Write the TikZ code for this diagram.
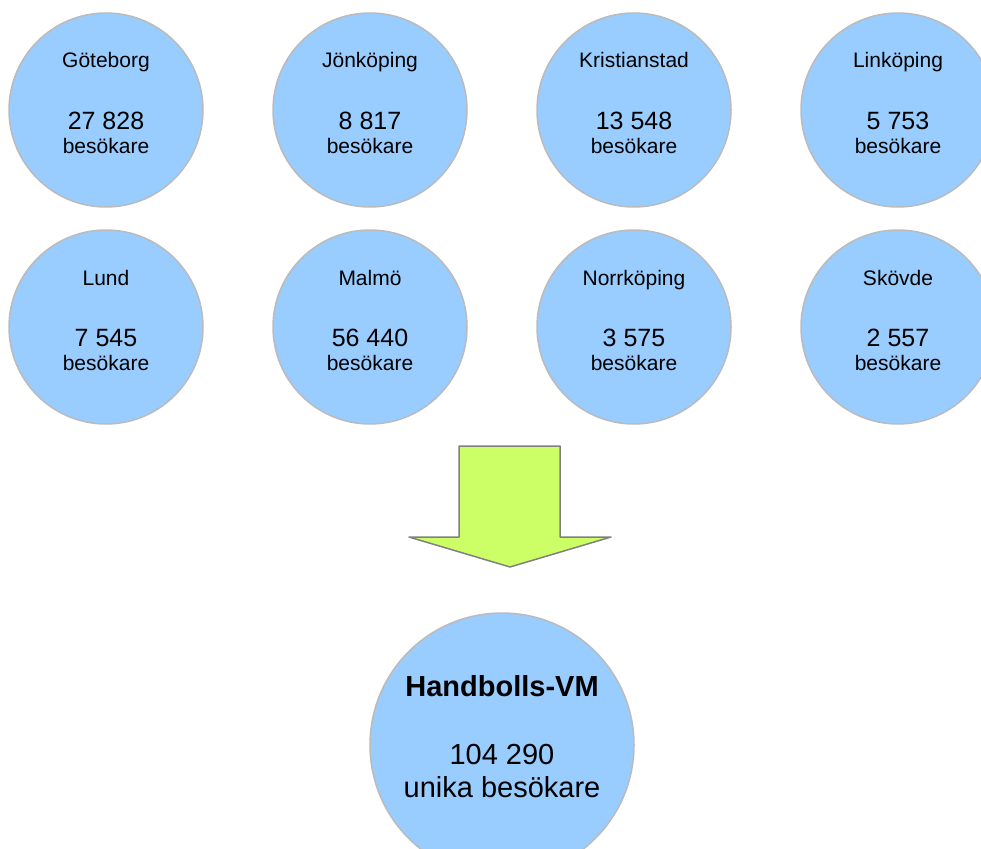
\documentclass[tikz,border=0pt]{standalone}
\usepackage{fontspec}
\setmainfont{Liberation Sans}
\usepackage{tikz}
\usetikzlibrary{calc}
\usepackage{tkz-euclide}
\usepackage{xcolor}
\definecolor{skyfill}{HTML}{99CCFF}
\definecolor{rimgray}{HTML}{BBBBBB}
\definecolor{limefill}{HTML}{CCFF66}
\definecolor{arrowgray}{HTML}{808080}

\begin{document}
\begin{tikzpicture}[x=1pt, y=-1pt,
    bubble/.style={circle, draw=rimgray, line width=1.5pt, fill=skyfill, minimum size=194pt, inner sep=0pt},
    town/.style={anchor=base, font=\fontsize{21}{21}\selectfont},
    count/.style={anchor=base, font=\fontsize{25}{25}\selectfont}]
            \clip (0,0) rectangle (981,848);
            \foreach \x/\y/\n/\t/\v in {106/110/got/Göteborg/27 828, 370/110/jon/Jönköping/8 817,
                634/110/kri/Kristianstad/13 548, 898/110/lin/Linköping/5 753,
                106/327/lun/Lund/7 545, 370/327/mal/Malmö/56 440,
                634/327/nor/Norrköping/3 575, 898/327/sko/Skövde/2 557}{
                \node[bubble] (\n) at (\x,\y) {};
                \node[town] (\n-name) at ($(\n)+(0,-42)$) {\t};
                \node[count] (\n-num) at ($(\n)+(0,19)$) {\v};
                \node[town] (\n-unit) at ($(\n)+(0,43)$) {besökare};
            }
            \tkzDefPoints{459/446/A, 560/446/B, 560/537/C, 611/537/D, 510/567/E, 409/537/F, 459/537/G}
            \tkzDrawPolygon[draw=arrowgray, fill=limefill, line width=1.5pt](A,B,C,D,E,F,G)
            \node[bubble, minimum size=264pt] (vm) at (502,745) {};
            \node[anchor=base, font=\fontsize{29}{29}\selectfont\bfseries] (vm-name) at ($(vm)+(0,-49)$) {Handbolls-VM};
            \node[anchor=base, font=\fontsize{29}{29}\selectfont] (vm-num) at ($(vm)+(0,19)$) {104 290};
            \node[anchor=base, font=\fontsize{29}{29}\selectfont] (vm-unit) at ($(vm)+(0,52)$) {unika besökare};
        \end{tikzpicture}
\end{document}
